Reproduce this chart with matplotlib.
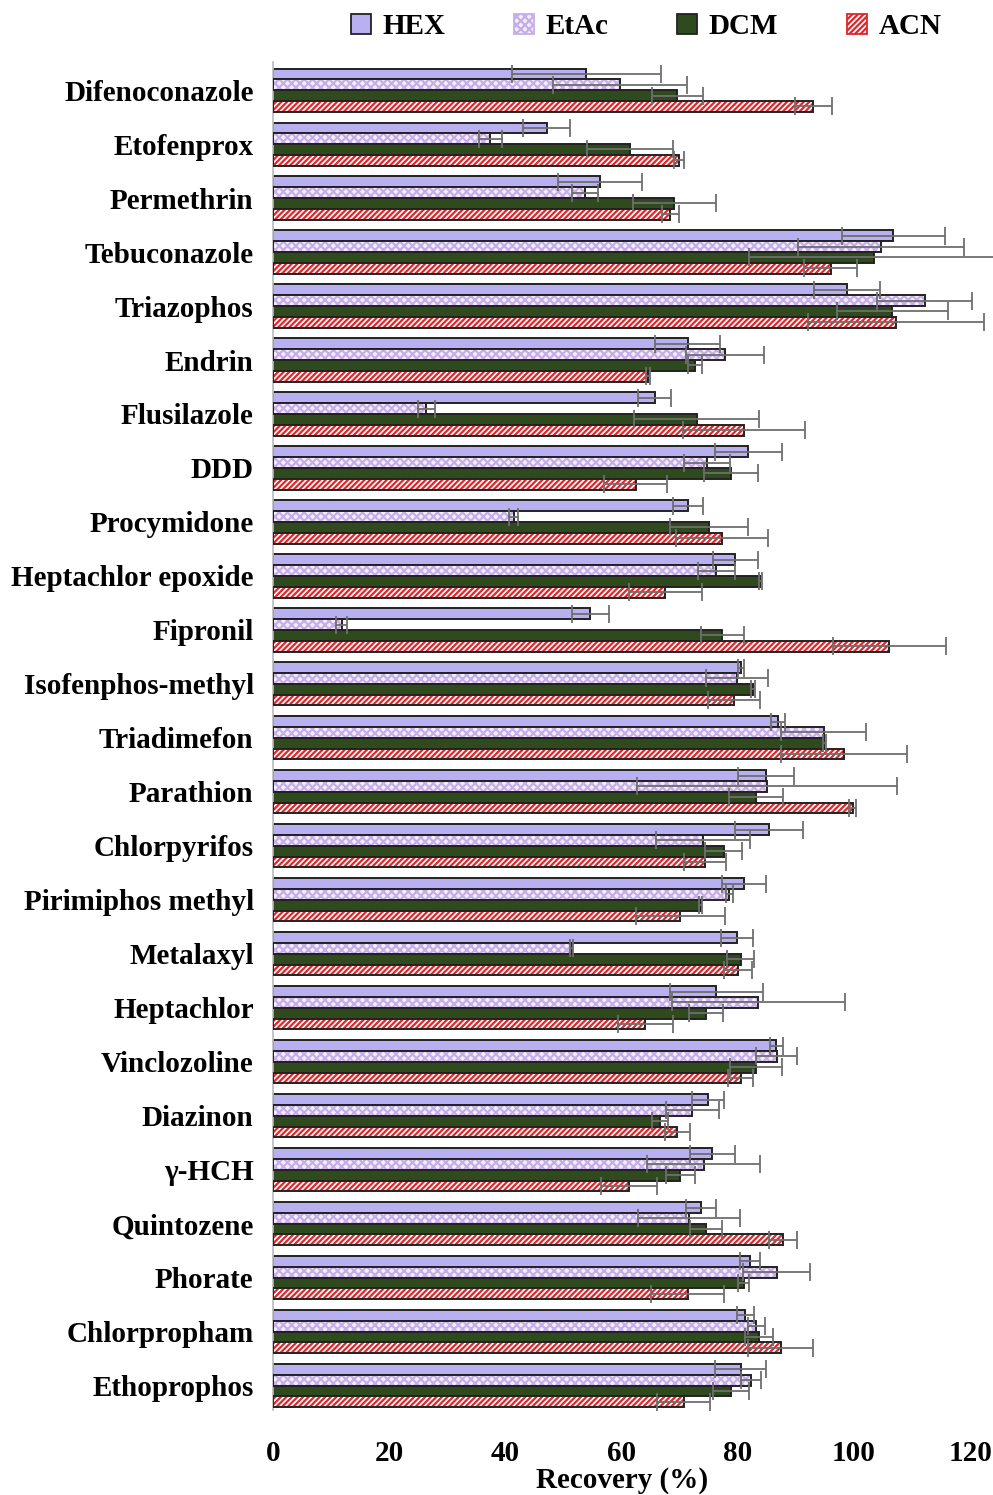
import numpy as np
import matplotlib
matplotlib.use('Agg')
import matplotlib.pyplot as plt
from matplotlib.patches import Patch

plt.rcParams['font.family'] = ['Liberation Serif', 'DejaVu Serif']
plt.rcParams['font.weight'] = 'bold'
plt.rcParams['hatch.linewidth'] = 1.6

compounds = ['Difenoconazole', 'Etofenprox', 'Permethrin', 'Tebuconazole', 'Triazophos',
             'Endrin', 'Flusilazole', 'DDD', 'Procymidone', 'Heptachlor epoxide',
             'Fipronil', 'Isofenphos-methyl', 'Triadimefon', 'Parathion', 'Chlorpyrifos',
             'Pirimiphos methyl', 'Metalaxyl', 'Heptachlor', 'Vinclozoline', 'Diazinon',
             'γ-HCH', 'Quintozene', 'Phorate', 'Chlorpropham', 'Ethoprophos']
solvents = ['HEX', 'EtAc', 'DCM', 'ACN']

hex_mean = [53.9, 47.1, 56.3, 106.8, 98.8, 71.4, 65.7, 81.8, 71.4, 79.6, 54.6, 80.5, 87.0,
            84.9, 85.4, 81.1, 79.9, 76.3, 86.6, 74.9, 75.6, 73.6, 82.1, 81.3, 80.5]
hex_sd = [12.8, 4.1, 7.2, 8.9, 5.6, 5.6, 2.8, 5.8, 2.6, 3.8, 3.2, 0.5, 1.2,
          4.8, 5.9, 3.8, 2.8, 8.0, 1.1, 2.8, 3.9, 2.6, 1.8, 1.5, 4.4]
etac_mean = [59.7, 37.4, 53.7, 104.6, 112.2, 77.8, 26.4, 74.7, 41.4, 76.3, 11.8, 79.9, 94.8,
             85.0, 74.0, 78.5, 51.4, 83.5, 86.7, 72.2, 74.1, 71.6, 86.7, 83.2, 82.3]
etac_sd = [11.5, 2.0, 2.2, 14.3, 8.2, 6.7, 1.5, 3.9, 0.8, 3.2, 1.0, 5.3, 7.3,
           22.4, 8.1, 0.6, 0.2, 14.9, 3.5, 4.5, 9.8, 8.8, 5.8, 1.5, 1.7]
dcm_mean = [69.6, 61.5, 69.1, 103.4, 106.6, 72.7, 72.9, 78.8, 75.1, 83.9, 77.3, 82.6, 94.9,
            83.1, 77.6, 73.6, 80.5, 74.5, 83.1, 66.6, 70.1, 74.5, 81.0, 83.6, 78.8]
dcm_sd = [4.4, 7.4, 7.1, 21.5, 9.5, 1.2, 10.7, 4.7, 6.7, 0.2, 3.7, 0.3, 0.2,
          4.7, 3.2, 0.2, 2.3, 2.9, 4.5, 1.3, 2.5, 2.7, 1.0, 2.4, 3.1]
acn_mean = [93.0, 69.9, 68.4, 96.0, 107.2, 64.5, 81.1, 62.4, 77.3, 67.5, 106.1, 79.3, 98.3,
            99.8, 74.4, 70.1, 80.1, 64.1, 80.5, 69.6, 61.3, 87.8, 71.4, 87.4, 70.7]
acn_sd = [3.2, 0.8, 1.4, 4.6, 15.1, 0.3, 10.5, 5.4, 7.9, 6.3, 9.7, 4.5, 10.8,
          0.6, 3.6, 7.7, 2.4, 4.8, 2.2, 2.2, 4.8, 2.4, 6.3, 5.6, 4.6]

means = [hex_mean, etac_mean, dcm_mean, acn_mean]
sds = [hex_sd, etac_sd, dcm_sd, acn_sd]

# face colour, hatch, hatch colour
styles = [('#B8B0F0', None, None),
          ('#F4EEFA', 'xxxx', '#C6AEE8'),
          ('#2F4B1E', None, None),
          ('#FFFFFF', '//////', '#E0262A')]

fig = plt.figure(figsize=(9.93, 14.95), dpi=100)
ax = fig.add_axes([0.275, 0.0569, 0.702, 0.9016])

n = len(compounds)
y = np.arange(n)
h = 0.2
for k in range(4):
    pos = y - 0.3 + k * h
    face, hatch, hcol = styles[k]
    if hatch is None:
        ax.barh(pos, means[k], height=h, color=face, edgecolor='#222222', linewidth=1.4, zorder=2)
    else:
        ax.barh(pos, means[k], height=h, color=face, edgecolor=hcol, hatch=hatch,
                linewidth=0, zorder=2)
        ax.barh(pos, means[k], height=h, fill=False, edgecolor='#222222', linewidth=1.4, zorder=3)
    ax.errorbar(means[k], pos, xerr=sds[k], fmt='none', ecolor='#6E6E6E', elinewidth=1.3,
                capsize=6.5, capthick=1.3, zorder=4, clip_on=False)

ax.set_xlim(0, 120)
ax.set_ylim(n - 0.55, -0.52)
ax.set_yticks(y)
ax.set_yticklabels(compounds, fontsize=21, fontweight='bold')
ax.set_xticks(np.arange(0, 121, 20))
ax.set_xticklabels([str(v) for v in range(0, 121, 20)], fontsize=21, fontweight='bold')
ax.tick_params(axis='both', length=0)
ax.tick_params(axis='y', pad=14)
ax.tick_params(axis='x', pad=22)
ax.set_xlabel('Recovery (%)', fontsize=21, fontweight='bold', labelpad=0)

for s in ['top', 'right', 'bottom']:
    ax.spines[s].set_visible(False)
ax.spines['left'].set_color('#BBBBBB')
ax.spines['left'].set_linewidth(1.2)

handles = []
for k in range(4):
    face, hatch, hcol = styles[k]
    if hatch is None:
        handles.append(Patch(facecolor=face, edgecolor='#222222', linewidth=1.3))
    else:
        handles.append(Patch(facecolor=face, edgecolor=hcol, hatch=hatch, linewidth=1.3))
leg = fig.legend(handles, solvents, loc='center', bbox_to_anchor=(0.651, 0.982), ncol=4,
                 frameon=False, fontsize=21, handlelength=0.68, handleheight=0.68,
                 handletextpad=0.4, columnspacing=2.35)
for t in leg.get_texts():
    t.set_fontweight('bold')

fig.savefig('out.png', dpi=100)
